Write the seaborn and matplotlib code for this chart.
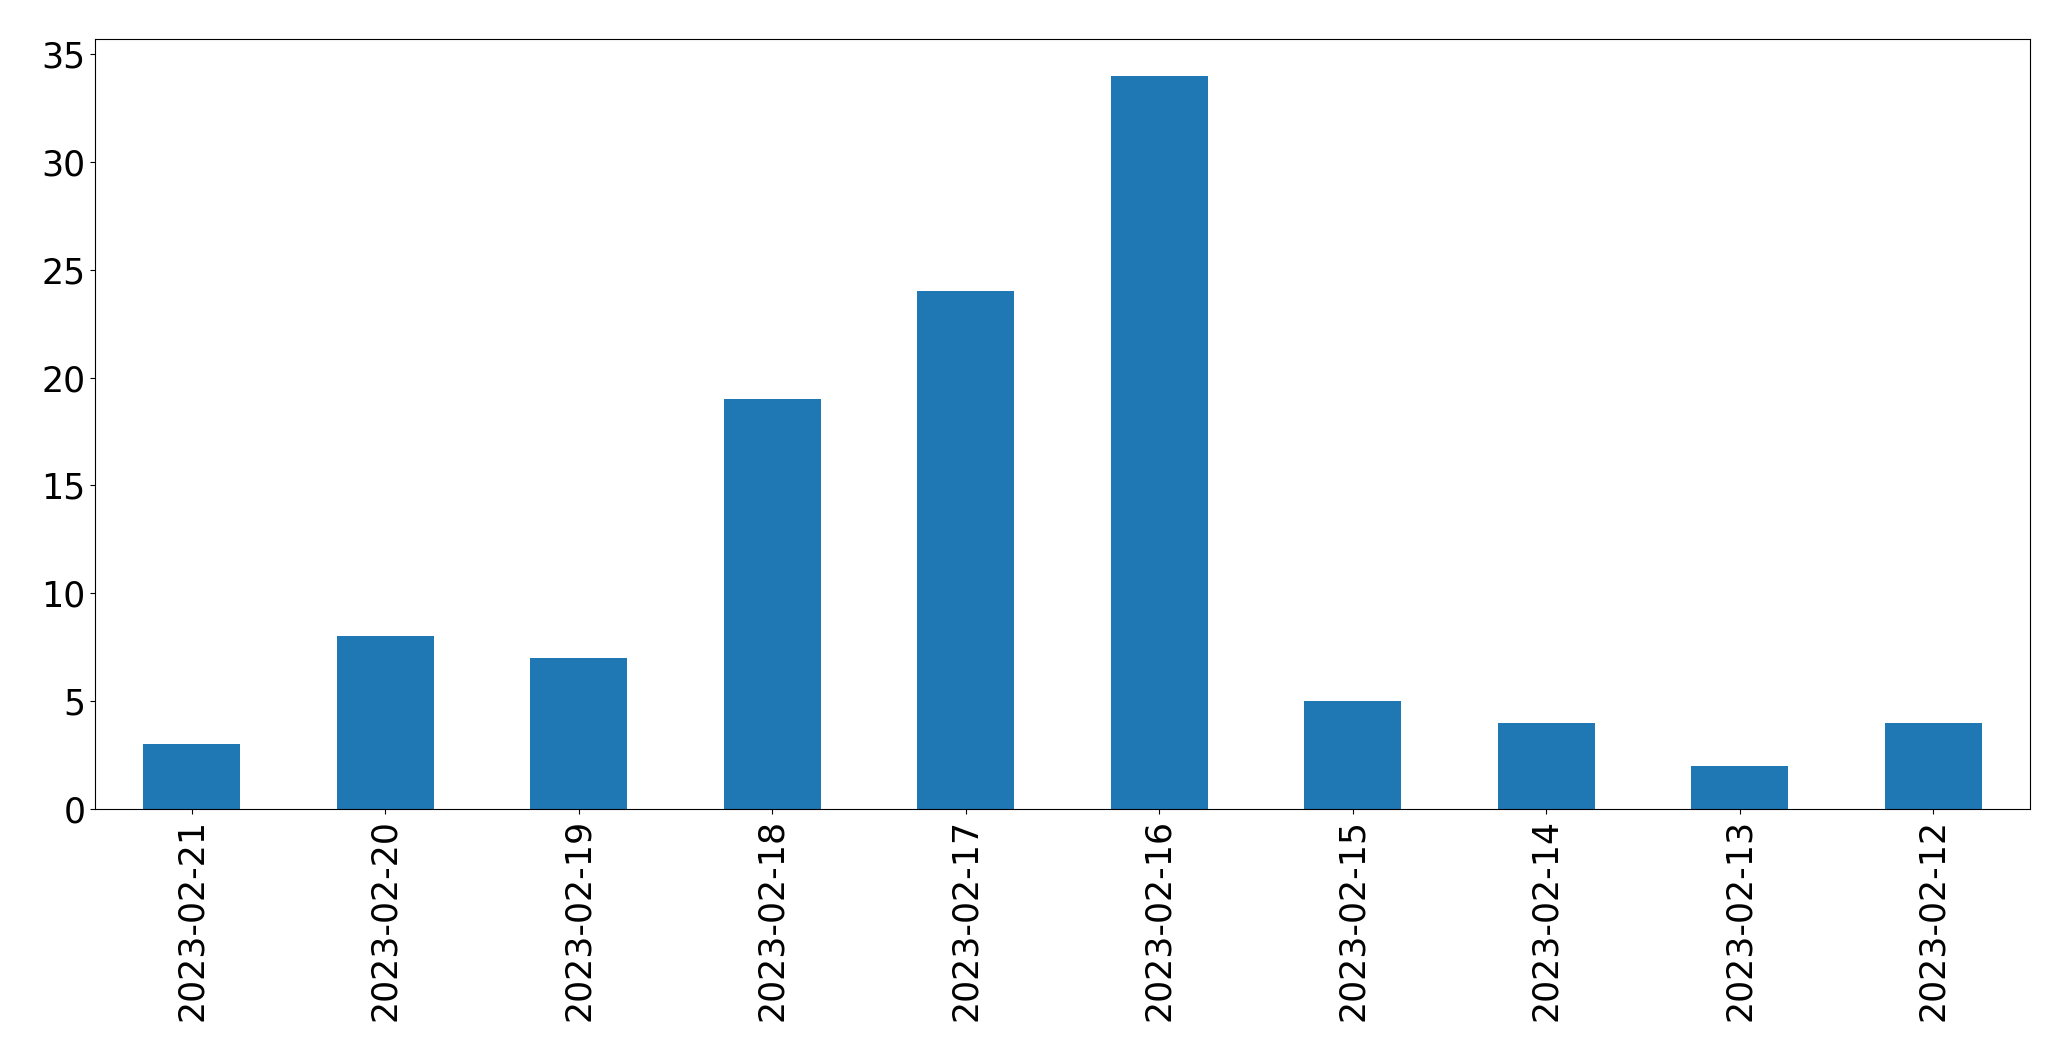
import pandas as pd
import matplotlib
matplotlib.use('Agg')
import matplotlib.pyplot as plt
import seaborn as sns

dates = ['2023-02-21', '2023-02-20', '2023-02-19', '2023-02-18', '2023-02-17',
         '2023-02-16', '2023-02-15', '2023-02-14', '2023-02-13', '2023-02-12']
counts = [3, 8, 7, 19, 24, 34, 5, 4, 2, 4]

df = pd.DataFrame({'date': dates, 'count': counts})

fig = plt.figure(figsize=(20.71, 10.61), dpi=100)
ax = fig.add_axes([95 / 2071, 1 - 809 / 1061, (2030 - 95) / 2071, (809 - 39) / 1061])

sns.barplot(data=df, x='date', y='count', order=dates, color='#1f77b4',
            saturation=1, width=0.5, linewidth=0, ax=ax)

ax.set_xlim(-0.5, len(dates) - 0.5)
ax.set_ylim(0, max(counts) * 1.05)
ax.set_xlabel('')
ax.set_ylabel('')
ax.tick_params(axis='both', labelsize=25)
plt.setp(ax.get_xticklabels(), rotation=90)

fig.savefig('out.png', dpi=100)
